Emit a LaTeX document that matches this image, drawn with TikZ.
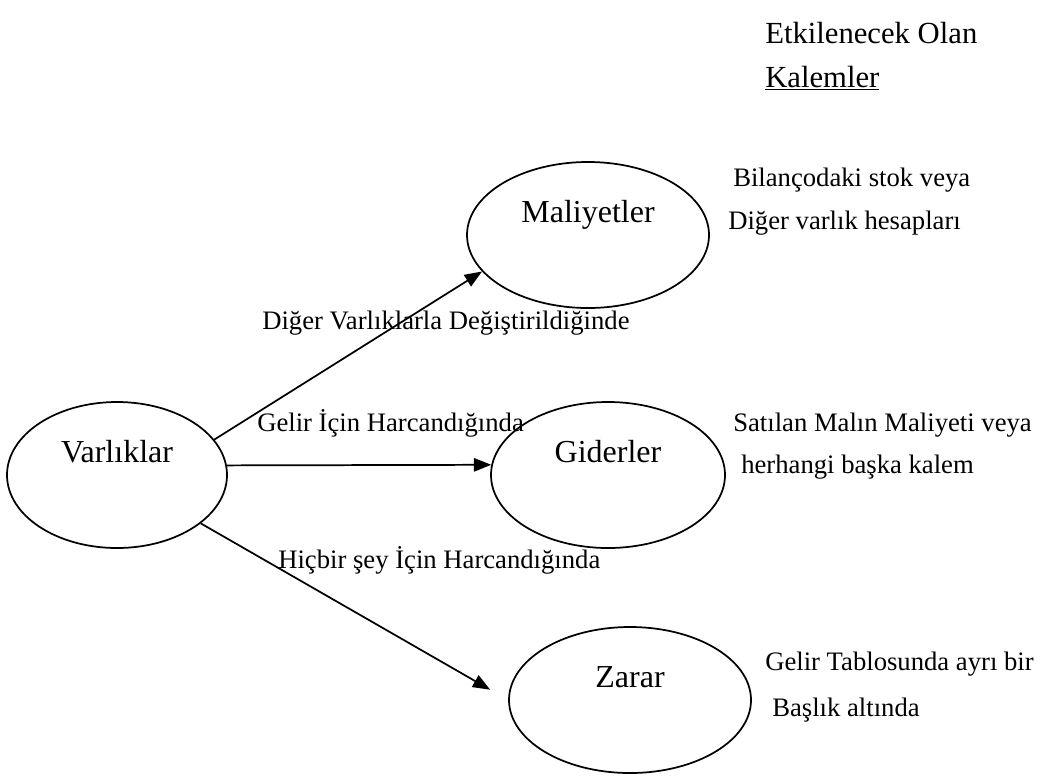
\documentclass[tikz,border=0pt]{standalone}
\usepackage{fontspec}
\setmainfont{Liberation Serif}
\usetikzlibrary{shapes.geometric,arrows.meta}
\begin{document}
\begin{tikzpicture}[x=0.75pt,y=-0.75pt,
  oval/.style={draw, ellipse, line width=1.3pt, inner sep=0pt, minimum height=109.5pt},
  bigtxt/.style={inner sep=0pt, anchor=base, font=\fontsize{24}{28}\selectfont},
  smalltxt/.style={inner sep=0pt, anchor=base west, font=\fontsize{20}{24}\selectfont},
  headtxt/.style={inner sep=0pt, anchor=base west, font=\fontsize{23}{27}\selectfont},
  flow/.style={line width=1.3pt, -{Triangle[length=13pt,width=10pt]}}]
\useasboundingbox (0,0) rectangle (1044,776);

% ellipses
\node[oval, minimum width=165pt]   (va) at (117,475) {};
\node[oval, minimum width=181.5pt] (ma) at (588,235) {};
\node[oval, minimum width=175.5pt] (gi) at (608,475) {};
\node[oval, minimum width=181.5pt] (za) at (630,700) {};

% ellipse captions
\node[bigtxt] (vaT) at (117,462) {Varlıklar};
\node[bigtxt] (maT) at (588,222) {Maliyetler};
\node[bigtxt] (giT) at (608,462) {Giderler};
\node[bigtxt] (zaT) at (630,687) {Zarar};

% heading
\node[headtxt] (h1) at (765,43) {Etkilenecek Olan};
\node[headtxt] (h2) at (765,87) {\underline{Kalemler}};

% affected items
\node[smalltxt] (m1) at (733,186) {Bilançodaki stok veya};
\node[smalltxt] (m2) at (728,229) {Diğer varlık hesapları};
\node[smalltxt] (g1) at (733,431) {Satılan Malın Maliyeti veya};
\node[smalltxt] (g2) at (741,473) {herhangi başka kalem};
\node[smalltxt] (z1) at (765,670) {Gelir Tablosunda ayrı bir};
\node[smalltxt] (z2) at (772,716) {Başlık altında};

% connectors
\draw[flow] (va.20) -- (ma.199);
\draw[flow] (va.5) -- (gi.175);
\draw[flow, shorten >=15.5pt] (va.330) -- (za.180);

% connector captions
\node[smalltxt] (e1) at (262,329) {Diğer Varlıklarla Değiştirildiğinde};
\node[smalltxt] (e2) at (257,431) {Gelir İçin Harcandığında};
\node[smalltxt] (e3) at (278,568) {Hiçbir şey İçin Harcandığında};
\end{tikzpicture}
\end{document}
